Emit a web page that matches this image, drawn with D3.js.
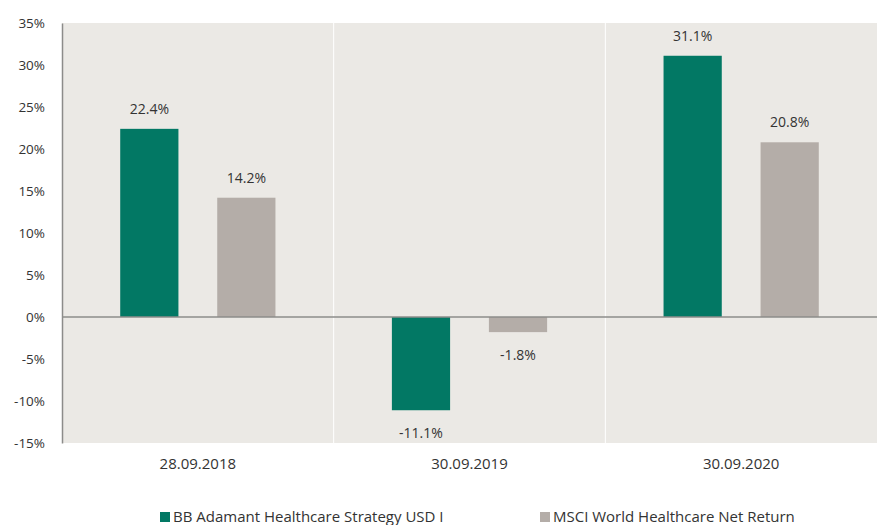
<!DOCTYPE html>
<html>
<head>
<meta charset="utf-8">
<script src="https://cdn.jsdelivr.net/npm/d3@7"></script>
<style>
  body { margin: 0; background: #fff; }
  text { font-family: "Open Sans", "Noto Sans", sans-serif; fill: #333; }
</style>
</head>
<body>
<div id="chart"></div>
<script>
    var w = 882;
    var h = 525;
    var margin = {top: 23, right: 5, bottom: 82, left: 62};
    var innerW = w - margin.left - margin.right,
        innerH = h - margin.top - margin.bottom;

    var dates = ['28.09.2018', '30.09.2019', '30.09.2020'];
    var seriesNames = ['BB Adamant Healthcare Strategy USD I', 'MSCI World Healthcare Net Return'];
    var fund = [22.4, -11.1, 31.1];
    var benchmark = [14.2, -1.8, 20.8];
    var yTicks = [-15, -10, -5, 0, 5, 10, 15, 20, 25, 30, 35];
    var colors = ['#027864', '#b4ada8'];

    var series = [fund, benchmark];

    var x = d3.scaleBand()
              .domain(dates)
              .range([0, innerW])
              .padding(0);
    var x1 = d3.scaleBand()
              .domain([0, 1])
              .range([0, x.bandwidth()])
              .paddingInner(0.4)
              .paddingOuter(0.6);
    var y = d3.scaleLinear()
              .domain([-15, 35])
              .range([innerH, 0]);

    var svg = d3.select('#chart').append('svg')
                .attr('width', w)
                .attr('height', h)
                .append('g')
                .attr('transform', 'translate(' + [margin.left, margin.top] + ')');

    // background
    svg.append('rect')
       .attr('width', innerW)
       .attr('height', innerH)
       .attr('fill', '#ebe9e5');

    // white separators between categories
    svg.selectAll('.sep')
       .data(dates.slice(1))
       .enter().append('line')
       .attr('class', 'sep')
       .attr('x1', function(d){ return x(d); })
       .attr('x2', function(d){ return x(d); })
       .attr('y1', 0)
       .attr('y2', innerH)
       .attr('stroke', '#fff')
       .attr('stroke-width', 1);

    // y axis
    var yAxis = d3.axisLeft(y)
                  .tickValues(yTicks)
                  .tickSize(0)
                  .tickPadding(17)
                  .tickFormat(function(d){ return d + '%'; });
    var gy = svg.append('g').call(yAxis);
    gy.select('.domain').attr('stroke', '#8c8c8a').attr('stroke-width', 1.5);
    gy.selectAll('text').style('font-size', '13.5px').attr('fill', '#333');

    // x axis labels
    var xAxis = d3.axisBottom(x).tickSize(0).tickPadding(15);
    var gx = svg.append('g')
                .attr('transform', 'translate(0,' + innerH + ')')
                .call(xAxis);
    gx.select('.domain').remove();
    gx.selectAll('text').style('font-size', '15px').attr('fill', '#333');

    // bars
    var groups = svg.selectAll('.grp')
        .data(dates)
        .enter().append('g')
        .attr('class', 'grp')
        .attr('transform', function(d){ return 'translate(' + x(d) + ',0)'; });

    var bars = groups.selectAll('.bar')
        .data(function(d, i){ return series.map(function(s, k){ return {k: k, v: s[i]}; }); })
        .enter().append('g')
        .attr('class', 'bar');

    bars.append('rect')
        .attr('x', function(d){ return x1(d.k); })
        .attr('width', x1.bandwidth())
        .attr('y', function(d){ return y(Math.max(0, d.v)); })
        .attr('height', function(d){ return Math.abs(y(d.v) - y(0)); })
        .attr('fill', function(d){ return colors[d.k]; });

    bars.append('text')
        .attr('x', function(d){ return x1(d.k) + x1.bandwidth() / 2; })
        .attr('y', function(d){ return d.v >= 0 ? y(d.v) - 15 : y(d.v) + 28; })
        .attr('text-anchor', 'middle')
        .style('font-size', '14px')
        .text(function(d){ return d.v.toFixed(1) + '%'; });

    // zero line
    svg.append('line')
       .attr('x1', 0)
       .attr('x2', innerW)
       .attr('y1', y(0))
       .attr('y2', y(0))
       .attr('stroke', '#8c8c8a')
       .attr('stroke-width', 1.5);

    // legend
    var legendX = [160, 540];
    var legend = d3.select('svg').selectAll('.leg')
        .data(seriesNames)
        .enter().append('g')
        .attr('class', 'leg')
        .attr('transform', function(d, i){ return 'translate(' + [legendX[i], 512] + ')'; });
    legend.append('rect')
        .attr('width', 10)
        .attr('height', 10)
        .attr('fill', function(d, i){ return colors[i]; });
    legend.append('text')
        .attr('x', 13)
        .attr('y', 10)
        .style('font-size', '15px')
        .text(function(d){ return d; });
</script>
</body>
</html>
